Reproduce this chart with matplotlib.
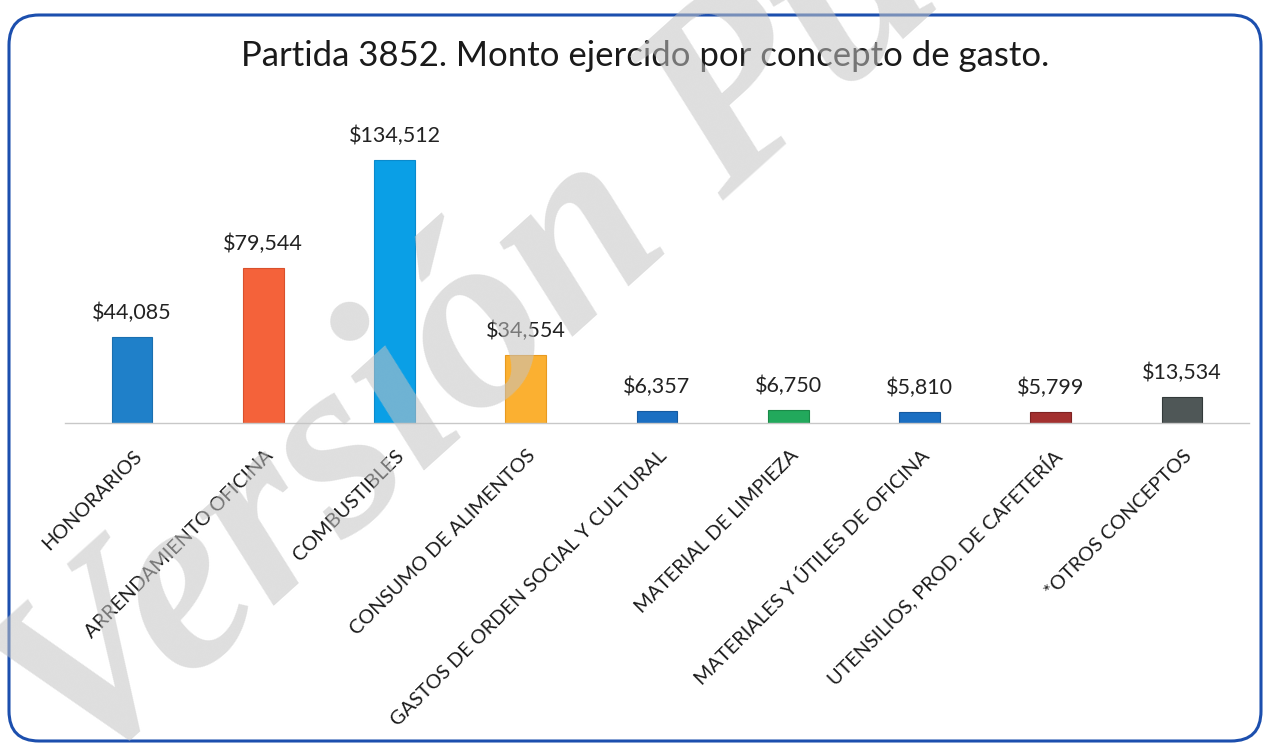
import matplotlib
matplotlib.use("Agg")
import matplotlib.pyplot as plt
from matplotlib.patches import FancyBboxPatch
from matplotlib.transforms import ScaledTranslation

categories = [
    "HONORARIOS",
    "ARRENDAMIENTO OFICINA",
    "COMBUSTIBLES",
    "CONSUMO DE ALIMENTOS",
    "GASTOS DE ORDEN SOCIAL Y CULTURAL",
    "MATERIAL DE LIMPIEZA",
    "MATERIALES Y ÚTILES DE OFICINA",
    "UTENSILIOS, PROD. DE CAFETERÍA",
    "*OTROS CONCEPTOS",
]
amounts = [44085, 79544, 134512, 34554, 6357, 6750, 5810, 5799, 13534]
bar_colors = ["#1f80c9", "#f4623a", "#0a9fe6", "#fbb031", "#1b6fc2",
              "#22a95c", "#1b6fc2", "#a3302f", "#4f5757"]
edge_colors = ["#1a6fb0", "#d9502c", "#0a8acc", "#e89a20", "#155aa0",
               "#1a8a48", "#155aa0", "#7e2222", "#333a3a"]

plt.rcParams["font.family"] = ["Lato", "DejaVu Sans"]

fig = plt.figure(figsize=(12.65, 7.44), dpi=100)
ax = fig.add_axes([0.0514, 0.4315, 0.936, 0.394])

x = range(len(categories))
ax.bar(x, amounts, width=0.31, color=bar_colors, edgecolor=edge_colors,
       linewidth=0.8, zorder=2)
ax.set_xlim(-0.51, len(categories) - 0.49)
ax.set_ylim(0, 150000)

for i, v in enumerate(amounts):
    ax.annotate(f"${v:,}", (i, v), xytext=(0, 10), textcoords="offset points",
                ha="center", va="bottom", fontsize=15.5, color="#222222")

offset = ScaledTranslation(0.07, -0.30, fig.dpi_scale_trans)
for i, label in enumerate(categories):
    ax.text(i, 0, label, transform=ax.transData + offset, rotation=45,
            rotation_mode="anchor", ha="right", va="center", fontsize=14.3,
            color="#1a1a1a")

for side in ["top", "right", "left"]:
    ax.spines[side].set_visible(False)
ax.spines["bottom"].set_color("#c8c8c8")
ax.spines["bottom"].set_linewidth(1.0)
ax.set_xticks([])
ax.set_yticks([])
ax.patch.set_alpha(0)

fig.text(0.51, 0.925, "Partida 3852. Monto ejercido por concepto de gasto.",
         ha="center", va="center", fontsize=25, color="#1a1a1a")

border = FancyBboxPatch((0.09, 0.03), 12.52, 7.26,
                        boxstyle="round,pad=0,rounding_size=0.3",
                        transform=fig.dpi_scale_trans, fill=False,
                        edgecolor="#1c4fae", linewidth=2.2)
fig.patches.append(border)

# faint watermark across the chart
fig.text(0.062, -0.051, "Versión Pública", rotation=42,
         rotation_mode="anchor", ha="left", va="baseline",
         fontsize=186, family="Liberation Serif", style="italic",
         weight="bold", color="#c4c4c4", alpha=0.55, zorder=10)

fig.savefig("out.png", dpi=100)
